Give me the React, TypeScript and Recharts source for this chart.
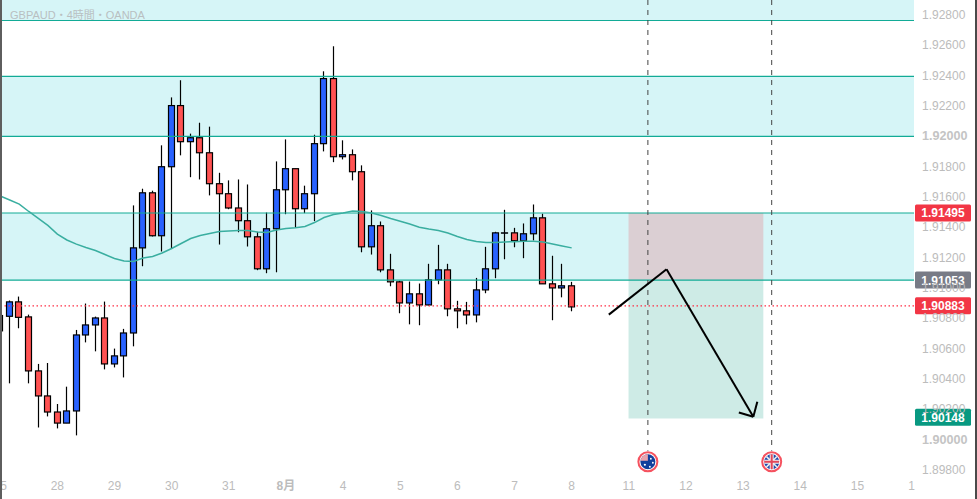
import {
  Bar,
  ComposedChart,
  Line,
  ReferenceArea,
  ReferenceDot,
  ReferenceLine,
  XAxis,
  YAxis,
} from "recharts";

// ---- data (one candle per 4h, index 0 = the 25th) --------------------------
const opens = [
  1.90718, 1.90814, 1.90909, 1.9081, 1.90454, 1.90289, 1.90183, 1.9011, 1.9019, 1.90691,
  1.90757, 1.90803, 1.905, 1.90553, 1.90704, 1.91265, 1.91628, 1.91345, 1.918, 1.92203,
  1.91965, 1.91991, 1.91892, 1.91688, 1.91622, 1.91528, 1.91444, 1.91338, 1.91127, 1.91391,
  1.91648, 1.91787, 1.91523, 1.91622, 1.91952, 1.92381, 1.91866, 1.91879, 1.91767, 1.91272,
  1.91411, 1.9112, 1.91041, 1.90902, 1.90962, 1.90889, 1.91054, 1.9112, 1.90863, 1.9085,
  1.90823, 1.90988, 1.91127, 1.91364, 1.91364, 1.91312, 1.91358, 1.91463, 1.91028, 1.91001,
  1.91015,
];
const closes = [
  1.90819, 1.90909, 1.90807, 1.90454, 1.90289, 1.90183, 1.9011, 1.9019, 1.90691, 1.90757,
  1.90803, 1.905, 1.90553, 1.90704, 1.91265, 1.91628, 1.91345, 1.918, 1.92203, 1.91965,
  1.91991, 1.91892, 1.91688, 1.91622, 1.91528, 1.91444, 1.91338, 1.91127, 1.91391, 1.91648,
  1.91787, 1.91523, 1.91622, 1.91952, 1.92381, 1.91866, 1.91879, 1.91767, 1.91272, 1.91411,
  1.9112, 1.91041, 1.90902, 1.90962, 1.90889, 1.91054, 1.9112, 1.90863, 1.9085, 1.90823,
  1.90988, 1.91127, 1.91364, 1.91364, 1.91312, 1.91358, 1.91463, 1.91028, 1.91001, 1.91015,
  1.90876,
];
const highs = [
  1.90832, 1.90918, 1.90944, 1.90825, 1.905, 1.90506, 1.90236, 1.9035, 1.90724, 1.90898,
  1.90812, 1.90911, 1.90601, 1.90731, 1.91545, 1.91655, 1.91642, 1.91941, 1.92257, 1.9237,
  1.92018, 1.9209, 1.92064, 1.9176, 1.9171, 1.91716, 1.91683, 1.91371, 1.91498, 1.91835,
  1.9198, 1.91787, 1.91675, 1.92011, 1.92429, 1.92594, 1.91974, 1.91914, 1.91809, 1.91512,
  1.91439, 1.91226, 1.91048, 1.91043, 1.9103, 1.9116, 1.91285, 1.9116, 1.90916, 1.90909,
  1.91067, 1.91272, 1.91371, 1.91516, 1.91397, 1.91426, 1.91551, 1.9149, 1.91213, 1.9116,
  1.91041,
];
const lows = [
  1.90522, 1.90372, 1.90735, 1.90372, 1.90081, 1.90154, 1.90075, 1.9011, 1.90029, 1.90642,
  1.90583, 1.90464, 1.90477, 1.90411, 1.90616, 1.91144, 1.9134, 1.91241, 1.91259, 1.91875,
  1.91731, 1.91716, 1.91611, 1.91287, 1.9152, 1.91368, 1.91274, 1.91118, 1.91098, 1.91104,
  1.91487, 1.91397, 1.91494, 1.91441, 1.91901, 1.9183, 1.91848, 1.9171, 1.91236, 1.91221,
  1.91104, 1.91012, 1.90834, 1.90761, 1.90755, 1.90885, 1.91025, 1.90814, 1.90735, 1.90761,
  1.90774, 1.90966, 1.91065, 1.9119, 1.91269, 1.91197, 1.91314, 1.91028, 1.90788, 1.90939,
  1.90847,
];
const ema = [
  1.91607, 1.91581, 1.91554, 1.91505, 1.91459, 1.91413, 1.91356, 1.91317, 1.9129, 1.91267,
  1.91248, 1.91221, 1.91195, 1.91178, 1.91175, 1.91198, 1.91208, 1.91231, 1.91261, 1.91294,
  1.91327, 1.91347, 1.9136, 1.91373, 1.91376, 1.9138, 1.9138, 1.9137, 1.91366, 1.91383,
  1.91393, 1.91397, 1.91406, 1.91432, 1.91465, 1.91485, 1.91495, 1.91508, 1.91505, 1.91495,
  1.91479, 1.91459, 1.91441, 1.91422, 1.91401, 1.91389, 1.9138, 1.91363, 1.9134, 1.9132,
  1.91307, 1.913, 1.913, 1.91304, 1.91306, 1.91308, 1.91309, 1.91304, 1.9129, 1.91277,
  1.91265,
];

const xTicks = [0, 6, 12, 18, 24, 30, 36, 42, 48, 54, 60, 66, 72, 78, 84, 90, 95.7];
const xLabels = ["25", "28", "29", "30", "31", "8月", "4", "5", "6", "7", "8", "11", "12", "13", "14", "15", "1"];
const yTicks = [
  1.898, 1.9, 1.902, 1.904, 1.906, 1.908, 1.91, 1.912, 1.914, 1.916, 1.918, 1.92, 1.922, 1.924,
  1.926, 1.928,
];
const yRoundTicks = [1.9, 1.92];

const xDomain = [-0.021, 95.94];
const yDomain = [1.89748, 1.92899];
const zones = [
  [1.92764, 1.92899],
  [1.92, 1.92396],
  [1.91053, 1.91495],
];
const zoneEdges = [1.92764, 1.92396, 1.92, 1.91495, 1.91053];
const eventIdx = [68, 81];

const lastPrice = 1.90883;
const tags = [
  { v: 1.91495, c: "#f23645" },
  { v: 1.91053, c: "#787b86" },
  { v: 1.90883, c: "#f23645" },
  { v: 1.90148, c: "#089981" },
];

// short/long tool
const boxX = [65.97, 80.12];
const boxEntry = 1.91053;
const boxStop = 1.91495;
const boxTarget = 1.9014;

// hand drawn arrow, [index, price]
const arrowPath = [
  [63.9, 1.90825],
  [69.96, 1.91124],
  [79.07, 1.90152],
];
const arrowHeadA = [77.55, 1.9018];
const arrowHeadB = [79.49, 1.90251];

const rows = opens.map((o, i) => ({
  i,
  open: o,
  close: closes[i],
  high: highs[i],
  low: lows[i],
  ema: ema[i],
}));

const UP = "#2962ff";
const DOWN = "#ff5252";
const TEAL = "#12ab96";
const LABEL = "#bcbcbc";
const FONT = '"Liberation Sans", Arial, sans-serif';

function Candle(props: any) {
  const { x, width, y, height, payload } = props;
  const cx = Math.floor(x + width / 2) + 0.5;
  const ppu = Math.abs(height) / (payload.high - payload.low);
  const top = Math.min(y, y + height);
  const yOf = (v: number) => top + (payload.high - v) * ppu;
  const bodyTop = yOf(Math.max(payload.open, payload.close));
  const bodyBot = yOf(Math.min(payload.open, payload.close));
  return (
    <g>
      <line x1={cx} x2={cx} y1={top} y2={top + Math.abs(height)} stroke="#000" strokeWidth={1.2} />
      <rect
        x={cx - 3}
        y={bodyTop}
        width={6}
        height={Math.max(bodyBot - bodyTop, 0.3)}
        fill={payload.close >= payload.open ? UP : DOWN}
        stroke="#000"
        strokeWidth={1.2}
      />
    </g>
  );
}

function PriceTick({ x, y, payload }: any) {
  const round = yRoundTicks.includes(payload.value);
  return (
    <text
      x={x}
      y={y + 4}
      fontFamily={FONT}
      fontSize={round ? 12.6 : 12}
      fontWeight={round ? 700 : 400}
      fill={round ? "#c4c4c4" : LABEL}
    >
      {payload.value.toFixed(5)}
    </text>
  );
}

function DateTick({ x, y, payload, index }: any) {
  return (
    <text
      x={x}
      y={y + 4}
      textAnchor="middle"
      fontFamily='"Liberation Sans", "Noto Sans CJK JP", sans-serif'
      fontSize={12}
      fontWeight={payload.value === 30 ? 700 : 400}
      fill={LABEL}
    >
      {xLabels[index]}
    </text>
  );
}

function PriceTag({ viewBox, value, color }: any) {
  const x = viewBox.x + viewBox.width + 1;
  const y = viewBox.y;
  return (
    <g>
      <rect x={x} y={y - 8.5} width={56} height={17} rx={1.5} fill={color} />
      <text
        x={x + 28}
        y={y + 4.5}
        textAnchor="middle"
        fontFamily={FONT}
        fontSize={12}
        fontWeight={700}
        fill="#fff"
      >
        {value.toFixed(5)}
      </text>
    </g>
  );
}

function EventFlag({ cx, cy, kind }: any) {
  const id = `flag-${kind}`;
  return (
    <g>
      <circle cx={cx} cy={cy} r={9.5} fill="#fff" stroke="#f5525f" strokeWidth={2} />
      <clipPath id={id}>
        <circle cx={cx} cy={cy} r={7.5} />
      </clipPath>
      <g clipPath={`url(#${id})`}>
        {kind === "au" ? (
          <>
            <rect x={cx - 8} y={cy - 8} width={16} height={16} fill="#123f9c" />
            <rect x={cx - 8} y={cy - 8} width={8} height={7} fill="#e8a3ad" />
            <circle cx={cx + 3} cy={cy - 3} r={0.9} fill="#fff" />
            <circle cx={cx + 5} cy={cy + 1} r={0.9} fill="#fff" />
            <circle cx={cx - 3} cy={cy + 3} r={1.1} fill="#fff" />
            <circle cx={cx + 2} cy={cy + 5} r={0.9} fill="#fff" />
          </>
        ) : (
          <>
            <rect x={cx - 8} y={cy - 8} width={16} height={16} fill="#1f47a8" />
            <line x1={cx - 8} x2={cx + 8} y1={cy - 8} y2={cy + 8} stroke="#eee" strokeWidth={1.6} />
            <line x1={cx - 8} x2={cx + 8} y1={cy + 8} y2={cy - 8} stroke="#eee" strokeWidth={1.6} />
            <rect x={cx - 8} y={cy - 2} width={16} height={4} fill="#f4f4f4" />
            <rect x={cx - 2} y={cy - 8} width={4} height={16} fill="#f4f4f4" />
            <rect x={cx - 8} y={cy - 1} width={16} height={2} fill="#e2485a" />
            <rect x={cx - 1} y={cy - 8} width={2} height={16} fill="#e2485a" />
          </>
        )}
      </g>
    </g>
  );
}

const seg = (a: number[], b: number[]) => [
  { x: a[0], y: a[1] },
  { x: b[0], y: b[1] },
];

export default function App() {
  return (
    <div style={{ position: "absolute", left: 0, top: 0, width: 977, height: 499, background: "#fff", overflow: "hidden" }}>
      <ComposedChart
        width={977}
        height={499}
        data={rows}
        margin={{ top: 0, right: 0, bottom: 0, left: 0 }}
      >
        <XAxis
          dataKey="i"
          type="number"
          domain={xDomain}
          ticks={xTicks}
          interval={0}
          allowDataOverflow
          axisLine={false}
          tickLine={false}
          height={21}
          tick={<DateTick />}
        />
        <YAxis
          orientation="right"
          type="number"
          domain={yDomain}
          ticks={yTicks}
          interval={0}
          allowDataOverflow
          axisLine={false}
          tickLine={false}
          width={63}
          tick={<PriceTick />}
        />

        {zones.map(([lo, hi]) => (
          <ReferenceArea key={lo} y1={lo} y2={hi} x1={xDomain[0]} x2={xDomain[1]} fill="#d6f5f7" fillOpacity={1} stroke="none" />
        ))}
        <ReferenceArea x1={boxX[0]} x2={boxX[1]} y1={boxEntry} y2={boxStop} fill="#f23645" fillOpacity={0.2} stroke="none" />
        <ReferenceArea x1={boxX[0]} x2={boxX[1]} y1={boxTarget} y2={boxEntry} fill="#089981" fillOpacity={0.2} stroke="none" />
        {zoneEdges.map((v) => (
          <ReferenceLine key={v} y={v} stroke={TEAL} strokeWidth={1.2} />
        ))}
        <ReferenceLine y={lastPrice} stroke="#ff2f45" strokeWidth={1.2} strokeDasharray="1.5 2.5" />
        {eventIdx.map((x) => (
          <ReferenceLine
            key={x}
            segment={seg([x, yDomain[1]], [x, 1.89928])}
            stroke="#444"
            strokeWidth={1}
            strokeDasharray="5 5"
          />
        ))}

        <Line dataKey="ema" stroke="#3aaea0" strokeWidth={1.5} dot={false} isAnimationActive={false} />
        <Bar
          dataKey={(d: any) => [d.low, d.high]}
          barSize={7}
          shape={<Candle />}
          isAnimationActive={false}
        />

        <ReferenceLine segment={seg(arrowPath[0], arrowPath[1])} stroke="#000" strokeWidth={2} />
        <ReferenceLine segment={seg(arrowPath[1], arrowPath[2])} stroke="#000" strokeWidth={2} />
        <ReferenceLine segment={seg(arrowHeadA, arrowPath[2])} stroke="#000" strokeWidth={2} />
        <ReferenceLine segment={seg(arrowHeadB, arrowPath[2])} stroke="#000" strokeWidth={2} />

        <ReferenceDot x={eventIdx[0]} y={1.89855} shape={(p: any) => <EventFlag {...p} kind="au" />} />
        <ReferenceDot x={eventIdx[1]} y={1.89855} shape={(p: any) => <EventFlag {...p} kind="uk" />} />

        {tags.map((t) => (
          <ReferenceLine
            key={t.v}
            y={t.v}
            stroke="none"
            label={(p: any) => <PriceTag {...p} value={t.v} color={t.c} />}
          />
        ))}
      </ComposedChart>

      <div
        style={{
          position: "absolute",
          left: 10,
          top: 6,
          font: '11px "Liberation Sans", "Noto Sans CJK JP", sans-serif',
          color: "#b9bfc1",
        }}
      >
        GBPAUD・4時間・OANDA
      </div>
      <div style={{ position: "absolute", left: 0, top: 0, width: 2, height: 499, background: "#5e5e5e" }} />
      <div style={{ position: "absolute", left: 975, top: 0, width: 2, height: 499, background: "#4a4a4a" }} />
    </div>
  );
}
